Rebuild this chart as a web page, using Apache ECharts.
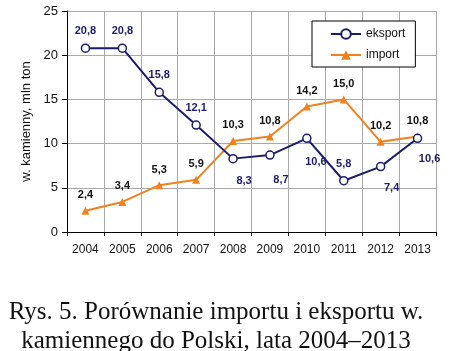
<!DOCTYPE html>
<html>
<head>
<meta charset="utf-8">
<script src="https://cdn.jsdelivr.net/npm/echarts@6/dist/echarts.min.js"></script>
<style>
  html, body { margin: 0; padding: 0; background: #fff; }
  #chart { width: 459px; height: 351px; }
</style>
</head>
<body>
<div id="chart"></div>
<script>
var years = ["2004", "2005", "2006", "2007", "2008", "2009", "2010", "2011", "2012", "2013"];
var eksport = [20.8, 20.8, 15.8, 12.1, 8.3, 8.7, 10.6, 5.8, 7.4, 10.6];
var importVals = [2.4, 3.4, 5.3, 5.9, 10.3, 10.8, 14.2, 15.0, 10.2, 10.8];
var yTicks = [0, 5, 10, 15, 20, 25];

var navy = "#1c1c6b";
var orange = "#f0821e";

function fmt(p) {
  return p.value.toFixed(1).replace(".", ",");
}

// label placement per point (eksport)
var eksLabelPos = ["top", "top", "top", "top", "bottom", "bottom", "bottom", "top", "bottom", "bottom"];
var eksLabelOff = [[0, -2], [0, -2], [0, -2], [0, -2], [11, 7], [11, 10], [9, 8], [0, -2], [11, 6], [12, 5]];

var chart = echarts.init(document.getElementById("chart"));

var option = {
  animation: false,
  title: {
    text: "Rys. 5. Porównanie importu i eksportu w.\nkamiennego do Polski, lata 2004–2013",
    left: 211,
    top: 293,
    textAlign: "center",
    textStyle: {
      fontFamily: "Liberation Serif",
      fontWeight: "normal",
      fontSize: 25,
      lineHeight: 29,
      color: "#111"
    }
  },
  legend: {
    orient: "vertical",
    left: 312,
    top: 21,
    padding: [7, 10, 6, 18],
    itemGap: 9,
    itemWidth: 30,
    itemHeight: 12,
    backgroundColor: "#fff",
    borderColor: "#000",
    borderWidth: 1,
    borderRadius: 0,
    textStyle: { fontFamily: "Liberation Sans", fontSize: 12, color: "#111" },
    data: ["eksport", "import"]
  },
  grid: { left: 67, right: 23, top: 11, bottom: 119 },
  xAxis: {
    type: "category",
    data: years,
    boundaryGap: true,
    axisLine: { lineStyle: { color: "#000", width: 1 } },
    axisTick: { show: true, length: 4, lineStyle: { color: "#000" } },
    axisLabel: { fontFamily: "Liberation Sans", fontSize: 12, color: "#111", margin: 12 },
    splitLine: { show: true, interval: 0, lineStyle: { color: "#a8a8a8", width: 1 } }
  },
  yAxis: {
    type: "value",
    min: yTicks[0],
    max: yTicks[yTicks.length - 1],
    interval: 5,
    name: "w. kamienny, mln ton",
    nameLocation: "middle",
    nameGap: 25,
    nameTextStyle: { fontFamily: "Liberation Sans", fontSize: 13, color: "#111" },
    axisLine: { show: true, lineStyle: { color: "#000", width: 1 } },
    axisTick: { show: true, length: 5, lineStyle: { color: "#000" } },
    axisLabel: { fontFamily: "Liberation Sans", fontSize: 13, color: "#111", margin: 9 },
    splitLine: { show: true, lineStyle: { color: "#a8a8a8", width: 1 } }
  },
  series: [
    {
      name: "eksport",
      type: "line",
      data: eksport.map(function (v, i) {
        return {
          value: v,
          label: { position: eksLabelPos[i], offset: eksLabelOff[i] }
        };
      }),
      symbol: "circle",
      symbolSize: 8,
      itemStyle: { color: "#fff", borderColor: navy, borderWidth: 1.5 },
      lineStyle: { color: navy, width: 2 },
      label: {
        show: true,
        formatter: fmt,
        fontFamily: "Liberation Sans",
        fontWeight: "bold",
        fontSize: 11,
        color: navy
      },
      z: 3
    },
    {
      name: "import",
      type: "line",
      data: importVals,
      symbol: "triangle",
      symbolSize: 8,
      itemStyle: { color: orange },
      lineStyle: { color: orange, width: 2 },
      label: {
        show: true,
        position: "top",
        offset: [0, -1],
        formatter: fmt,
        fontFamily: "Liberation Sans",
        fontWeight: "bold",
        fontSize: 11,
        color: "#111"
      },
      z: 2
    }
  ]
};

chart.setOption(option);

window.addEventListener("resize", function () {
  chart.resize();
});
</script>
</body>
</html>
